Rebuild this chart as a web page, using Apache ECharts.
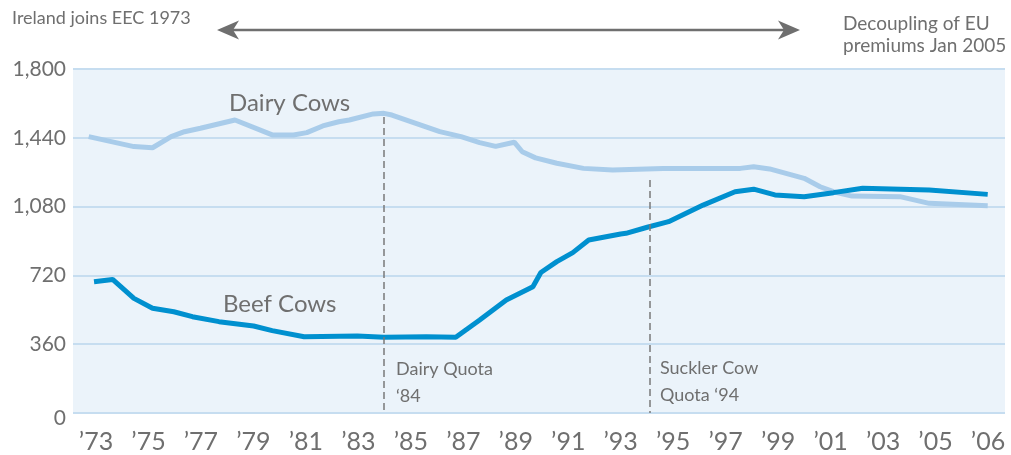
<!DOCTYPE html>
<html><head><meta charset="utf-8">
<script src="https://cdn.jsdelivr.net/npm/echarts@6/dist/echarts.min.js"></script>
<style>html,body{margin:0;padding:0;background:#fff}#c{width:1011px;height:455px}</style>
</head><body><div id="c"></div>
<script>
const xLabels = ["’73","’75","’77","’79","’81","’83","’85","’87","’89","’91","’93","’95","’97","’99","’01","’03","’05","’06"];
const yTicks = [0, 360, 720, 1080, 1440, 1800];

const dairyYears  = [1972.9,1974.6,1975.3,1976.0,1976.5,1977.1,1978.4,1979.8,1980.6,1981.1,1981.7,1982.3,1982.7,1983.6,1984.0,1984.3,1985.2,1986.1,1986.9,1987.6,1988.2,1988.9,1989.2,1989.7,1990.5,1991.5,1992.6,1994.5,1997.4,1997.9,1998.5,1999.8,2000.4,2000.9,2001.6,2003.4,2004.5,2006.7];
const dairyValues = [1446,1394,1388,1446,1472,1490,1533,1455,1455,1467,1502,1524,1533,1565,1568,1559,1516,1472,1446,1415,1395,1417,1367,1335,1307,1280,1272,1280,1280,1289,1277,1228,1184,1158,1135,1132,1097,1085];

const beefYears  = [1973.1,1973.8,1974.6,1975.3,1976.1,1976.8,1977.8,1979.1,1979.8,1981.0,1983.0,1984.0,1985.6,1986.7,1987.6,1988.6,1989.6,1989.9,1990.5,1991.1,1991.7,1992.9,1993.1,1993.9,1994.7,1996.0,1997.2,1997.9,1998.7,1999.8,2000.9,2002.0,2004.5,2006.7];
const beefValues = [687,699,600,548,530,504,478,455,431,399,403,396,399,396,487,591,661,735,792,839,905,937,940,972,1001,1088,1158,1171,1141,1132,1153,1176,1167,1144];

const quotaYears = [1984, 1994];
const quotaTops  = [1549, 1219];

const GRAY = '#6f6f6f';
const FONT = 'Lato, "Open Sans", sans-serif';

const chart = echarts.init(document.getElementById('c'), null, {renderer: 'canvas'});

function zip(xs, ys) { return xs.map((x, i) => [x, ys[i]]); }

function txt(text, x, y, size) {
  return { type: 'text', x: x, y: y, silent: true,
    style: { text: text, fill: GRAY, font: size + 'px ' + FONT, textVerticalAlign: 'middle', textAlign: 'left' } };
}

const option = {
  animation: false,
  backgroundColor: '#ffffff',
  grid: [
    { left: 73, right: 6, top: 69, bottom: 42, show: true, backgroundColor: '#EBF3FA', borderWidth: 0 },
    { left: 96, right: 23, top: 69, bottom: 42, show: false }
  ],
  xAxis: [
    { type: 'value', gridIndex: 0, min: 1972.31, max: 2007.35, show: false, splitLine: {show: false} },
    { type: 'category', gridIndex: 1, data: xLabels, boundaryGap: false,
      axisLine: {show: false}, axisTick: {show: false}, splitLine: {show: false},
      axisLabel: { color: GRAY, fontSize: 25, fontFamily: FONT, margin: 16, interval: 0 } }
  ],
  yAxis: [
    { type: 'value', gridIndex: 0, min: yTicks[0], max: yTicks[yTicks.length - 1], interval: 360,
      axisLine: {show: false}, axisTick: {show: false},
      axisLabel: { color: GRAY, fontSize: 21, fontFamily: FONT, margin: 7,
        formatter: v => v === 0 ? '{z|0}' : v.toLocaleString('en-US'),
        rich: { z: { color: GRAY, fontSize: 21, fontFamily: FONT, padding: [10, 0, 0, 0] } } },
      splitLine: { lineStyle: { color: '#C6DDF0', width: 2 } } },
    { type: 'value', gridIndex: 1, min: 0, max: 1, show: false }
  ],
  series: [
    { name: 'Dairy Cows', type: 'line', xAxisIndex: 0, yAxisIndex: 0, data: zip(dairyYears, dairyValues),
      showSymbol: false, symbol: 'none', lineStyle: { color: '#A9CCEA', width: 5 }, z: 3 },
    { name: 'Beef Cows', type: 'line', xAxisIndex: 0, yAxisIndex: 0, data: zip(beefYears, beefValues),
      showSymbol: false, symbol: 'none', lineStyle: { color: '#0090CF', width: 5 }, z: 4,
      markLine: { silent: true, symbol: ['none', 'none'], label: {show: false},
        lineStyle: { color: '#7a7a7a', width: 1.5, type: [7, 4] },
        data: quotaYears.map((yr, i) => [{ coord: [yr, quotaTops[i]] }, { coord: [yr, 0] }]) } }
  ],
  graphic: [
    { type: 'line', silent: true, shape: { x1: 232, y1: 30, x2: 785, y2: 30 }, style: { stroke: GRAY, lineWidth: 2.5 } },
    { type: 'polygon', silent: true, shape: { points: [[217,30],[239,20.5],[233,30],[239,39.5]] }, style: { fill: GRAY } },
    { type: 'polygon', silent: true, shape: { points: [[800,30],[778,20.5],[784,30],[778,39.5]] }, style: { fill: GRAY } },
    txt('Ireland joins EEC 1973', 12, 18, 18),
    txt('Decoupling of EU', 843, 24, 19),
    txt('premiums Jan 2005', 843, 46, 19),
    txt('Dairy Cows', 229, 103, 24),
    txt('Beef Cows', 223, 304, 24),
    txt('Dairy Quota', 396, 369, 18),
    txt('‘84', 396, 396, 18),
    txt('Suckler Cow', 660, 368, 18),
    txt('Quota ‘94', 660, 395, 18)
  ]
};
chart.setOption(option);
</script>
</body></html>
